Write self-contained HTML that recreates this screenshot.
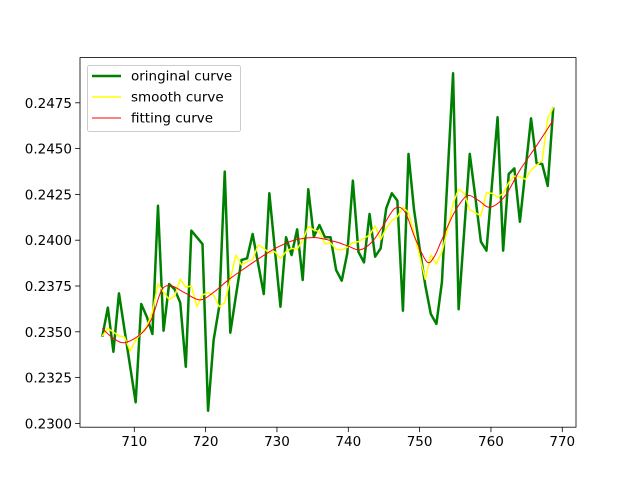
<!DOCTYPE html>
<html><head><meta charset="utf-8"><style>
html,body{margin:0;padding:0;background:#fff;}
svg{display:block;font-family:"DejaVu Sans","Liberation Sans",sans-serif;}
</style></head><body>
<svg id="chart" width="640" height="480" viewBox="0 0 640 480" xmlns="http://www.w3.org/2000/svg">
<rect x="0" y="0" width="640" height="480" fill="#fff"/>
<g id="plot"></g>
<g id="axes"></g>
<g id="legend">
<rect x="87.5" y="65.5" width="153" height="66" rx="2" fill="#fff" fill-opacity="0.8" stroke="#ccc" stroke-width="1"/>
<g><line x1="92" y1="76" x2="121" y2="76" stroke="#008000" stroke-width="2.5"/><text x="131" y="80.5" font-size="13.5" fill="#000">oringinal curve</text></g>
<g><line x1="92" y1="97" x2="121" y2="97" stroke="#ffff00" stroke-width="1.5"/><text x="131" y="101.5" font-size="13.5" fill="#000">smooth curve</text></g>
<g><line x1="92" y1="118" x2="121" y2="118" stroke="#ff0000" stroke-width="1"/><text x="131" y="122.5" font-size="13.5" fill="#000">fitting curve</text></g>
</g>
</svg>
<script>
const xValues = [705.51,706.29,707.07,707.85,708.63,709.41,710.19,710.97,711.75,712.54,713.32,714.10,714.88,715.66,716.44,717.22,718.00,718.78,719.56,720.34,721.12,721.90,722.68,723.46,724.24,725.03,725.81,726.59,727.37,728.15,728.93,729.71,730.49,731.27,732.05,732.83,733.61,734.39,735.17,735.95,736.73,737.51,738.30,739.08,739.86,740.64,741.42,742.20,742.98,743.76,744.54,745.32,746.10,746.88,747.66,748.44,749.22,750.00,750.79,751.57,752.35,753.13,753.91,754.69,755.47,756.25,757.03,757.81,758.59,759.37,760.15,760.93,761.71,762.49,763.28,764.06,764.84,765.62,766.40,767.18,767.96,768.74];
const originalValues = [0.23473,0.23632,0.23391,0.23710,0.23510,0.23313,0.23115,0.23652,0.23582,0.23488,0.24188,0.23506,0.23761,0.23732,0.23659,0.23309,0.24052,0.24016,0.23979,0.23069,0.23455,0.23637,0.24374,0.23495,0.23695,0.23892,0.23901,0.24034,0.23870,0.23706,0.24256,0.23947,0.23637,0.24016,0.23919,0.24059,0.23783,0.24278,0.24019,0.24083,0.24016,0.24016,0.23837,0.23779,0.23929,0.24325,0.23937,0.23879,0.24143,0.23910,0.23956,0.24174,0.24256,0.24216,0.23615,0.24471,0.24165,0.23957,0.23755,0.23597,0.23543,0.23773,0.24345,0.24911,0.23623,0.24050,0.24471,0.24236,0.23992,0.23943,0.24307,0.24671,0.23943,0.24361,0.24392,0.24101,0.24383,0.24665,0.24420,0.24416,0.24296,0.24725];
const smoothValues = [0.23477,0.23519,0.23499,0.23477,0.23472,0.23395,0.23455,0.23493,0.23528,0.23608,0.23761,0.23717,0.23677,0.23695,0.23787,0.23743,0.23750,0.23637,0.23701,0.23713,0.23701,0.23637,0.23659,0.23788,0.23919,0.23865,0.23881,0.23896,0.23974,0.23956,0.23929,0.23937,0.23901,0.23937,0.23956,0.23950,0.24001,0.24074,0.24056,0.24046,0.23979,0.23985,0.23950,0.23947,0.23961,0.23986,0.23992,0.24010,0.24028,0.24078,0.24005,0.24065,0.24106,0.24128,0.24180,0.24150,0.24038,0.23914,0.23787,0.23919,0.23870,0.23937,0.24056,0.24201,0.24278,0.24256,0.24165,0.24150,0.24132,0.24259,0.24256,0.24234,0.24256,0.24314,0.24350,0.24347,0.24332,0.24383,0.24410,0.24434,0.24665,0.24725];
const fitX = [705.51,707.0,708.70,711.04,712.48,713.84,715.24,717.11,719.21,721.17,723.18,725.52,727.86,730.15,732.53,735.33,738.14,739.96,741.64,743.32,744.87,746.55,747.95,749.36,750.99,752.02,753.10,754.82,756.60,758.18,759.87,761.97,764.07,766.46,768.74];
const fitValues = [0.23519,0.23466,0.23441,0.23492,0.23575,0.23728,0.23750,0.23712,0.23674,0.23717,0.23783,0.23848,0.23910,0.23963,0.24001,0.24014,0.23992,0.23968,0.23947,0.23990,0.24078,0.24174,0.24154,0.24012,0.23883,0.23908,0.24001,0.24148,0.24241,0.24219,0.24180,0.24241,0.24383,0.24520,0.24656];
const xTicks = [710,720,730,740,750,760,770];
const yTicks = [0.2300,0.2325,0.2350,0.2375,0.2400,0.2425,0.2450,0.2475];

const NS = "http://www.w3.org/2000/svg";
const L = 80, R = 576, T = 57.6, B = 427.2;
function xs(v){ return 134.3 + (v - 710) * 7.133; }
function ys(v){ return 423.4 - (v - 0.23) * 18320; }
function mk(tag, attrs, parent){ const e = document.createElementNS(NS, tag); for (const k in attrs) e.setAttribute(k, attrs[k]); parent.appendChild(e); return e; }
const plot = document.getElementById('plot');
const axes = document.getElementById('axes');

function linePath(xa, ya){ return xa.map((x,i)=>(i?'L':'M')+xs(x).toFixed(2)+','+ys(ya[i]).toFixed(2)).join(''); }
function smoothPath(xa, ya){
  const p = xa.map((x,i)=>[xs(x), ys(ya[i])]);
  let d = 'M'+p[0][0]+','+p[0][1];
  for (let i=0;i<p.length-1;i++){
    const p0=p[Math.max(0,i-1)], p1=p[i], p2=p[i+1], p3=p[Math.min(p.length-1,i+2)];
    const c1=[p1[0]+(p2[0]-p0[0])/6, p1[1]+(p2[1]-p0[1])/6];
    const c2=[p2[0]-(p3[0]-p1[0])/6, p2[1]-(p3[1]-p1[1])/6];
    d += 'C'+c1.join(',')+' '+c2.join(',')+' '+p2.join(',');
  }
  return d;
}
const g1 = mk('path', {d: linePath(xValues, originalValues), fill:'none', stroke:'#008000', 'stroke-width':2.5, 'stroke-linejoin':'round'}, plot);


const g2 = mk('path', {d: linePath(xValues, smoothValues), fill:'none', stroke:'#ffff00', 'stroke-width':1.5, 'stroke-linejoin':'round'}, plot);


const g3 = mk('path', {d: smoothPath(fitX, fitValues), fill:'none', stroke:'#ff0000', 'stroke-width':1}, plot);



const frame = mk('rect', {x:L, y:T, width:R-L, height:B-T, fill:'none', stroke:'#000', 'stroke-width':0.8}, axes);


xTicks.forEach(t=>{
  const x = xs(t);
  const tk = mk('line', {x1:x, y1:B, x2:x, y2:B+4.9, stroke:'#000', 'stroke-width':0.8}, axes);
  
  
  const tx = mk('text', {x:x, y:B+19, 'font-size':13.5, 'text-anchor':'middle', fill:'#000'}, axes);
  tx.textContent = String(t);
  
  
});
yTicks.forEach(t=>{
  const y = ys(t);
  const tk = mk('line', {x1:L-4.9, y1:y, x2:L, y2:y, stroke:'#000', 'stroke-width':0.8}, axes);
  
  
  const tx = mk('text', {x:L-8, y:y+5, 'font-size':13.5, 'text-anchor':'end', fill:'#000'}, axes);
  tx.textContent = t.toFixed(4);
  
  
});
</script>
</body></html>
